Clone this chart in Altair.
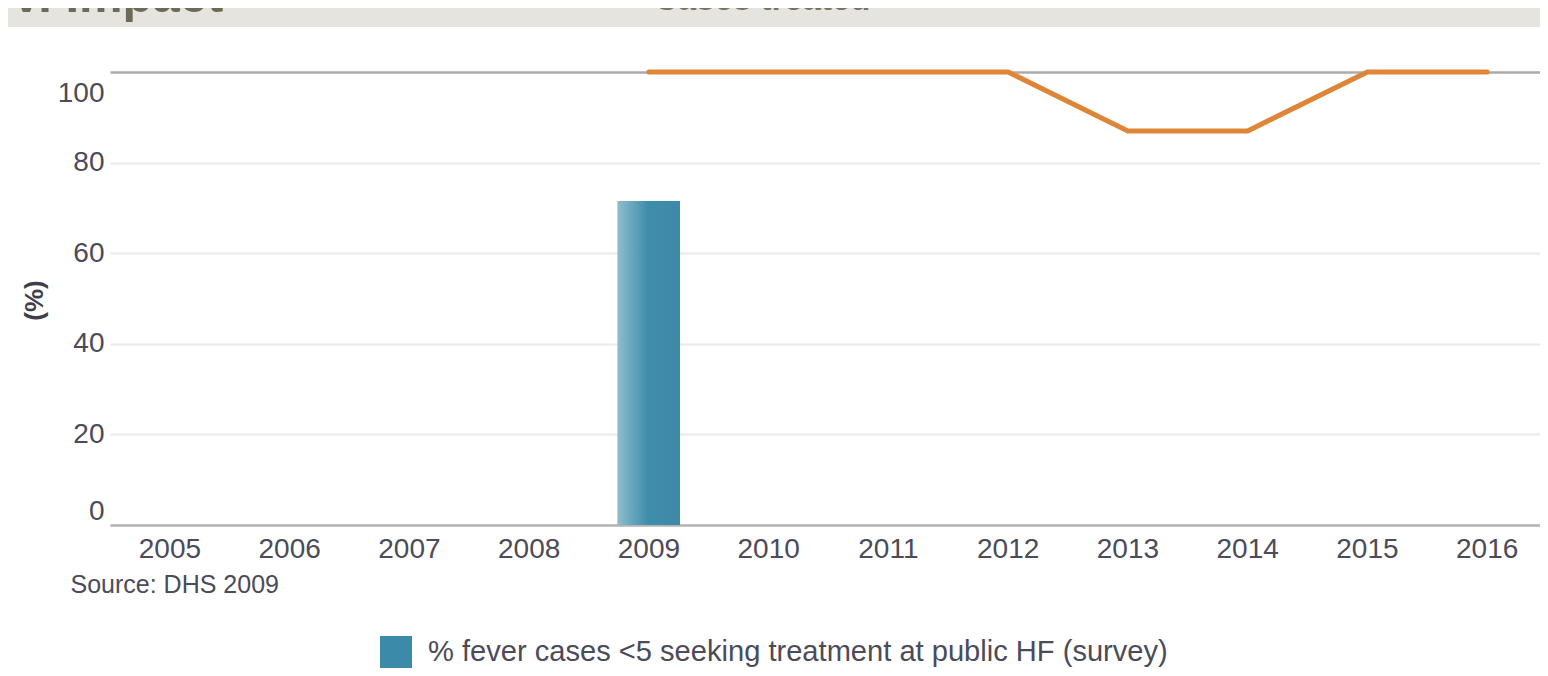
import altair as alt
import pandas as pd

# ---- data ----
years = ["2005", "2006", "2007", "2008", "2009", "2010", "2011", "2012",
         "2013", "2014", "2015", "2016"]
bar_years = ["2009"]
bar_values = [71.5]
bar_series = ["% fever cases <5 seeking treatment at public HF (survey)"]
line_years = ["2009", "2010", "2011", "2012", "2013", "2014", "2015", "2016"]
line_values = [100, 100, 100, 100, 87, 87, 100, 100]
y_ticks = [0, 20, 40, 60, 80, 100]
header_left = ["V. Impact"]
header_center = ["Cases treated"]
source_text = "Source: DHS 2009"
y_title = "(%)"

FONT = "Liberation Sans"
LABEL_COLOR = "#4b4b5a"

bar_df = pd.DataFrame({"year": bar_years, "value": bar_values, "series": bar_series})
line_df = pd.DataFrame({"year": line_years, "value": line_values})

W, H = 1437, 453
PAD_L, PAD_T = 102, 64

x_scale = alt.Scale(domain=years, paddingInner=0.48, paddingOuter=0.24)
y_scale = alt.Scale(domain=[0, 100], nice=False)

x_axis = alt.Axis(
    title=source_text, titleX=-40, titleY=59, titleAlign="left", titleAnchor="start",
    titleBaseline="middle", titleFontSize=25, titleFontWeight="normal",
    titleColor=LABEL_COLOR, titleFont=FONT,
    labelAngle=0, labelFontSize=28, labelColor=LABEL_COLOR, labelFont=FONT,
    labelPadding=10, ticks=False, domain=True, domainColor="#b4b4b4",
    domainWidth=2.5, grid=False,
)
y_axis = alt.Axis(
    title=y_title, titleX=-76, titleY=228, titleAngle=270, titleAlign="center",
    titleBaseline="middle", titleFontSize=26, titleFontWeight="bold",
    titleColor="#3f3f4c", titleFont=FONT,
    values=y_ticks, labelFontSize=28, labelColor=LABEL_COLOR, labelFont=FONT,
    labelPadding=6, ticks=False, domain=False, labelFlush=True,
    labelOffset={"condition": {"test": "datum.value === 100", "value": 7}, "value": 0},
    grid=True,
    gridColor={"condition": {"test": "datum.value === 100", "value": "#ababab"}, "value": "#e9e9e9"},
    gridWidth={"condition": {"test": "datum.value === 100", "value": 2.5}, "value": 2},
)

x_enc = alt.X("year:O", scale=x_scale, axis=x_axis)
y_enc = alt.Y("value:Q", scale=y_scale, axis=y_axis)

header_band = alt.Chart(pd.DataFrame({"t": header_left})).mark_rect(
    color="#e5e4df"
).encode(
    x=alt.value(-PAD_L), x2=alt.value(W + 1), y=alt.value(-72), y2=alt.value(-45)
)

header_text1 = alt.Chart(pd.DataFrame({"t": header_left})).mark_text(
    font=FONT, fontSize=49, fontWeight="bold", color="#6d6a58",
    align="left", baseline="alphabetic"
).encode(x=alt.value(-100), y=alt.value(-60), text="t:N")

header_text2 = alt.Chart(pd.DataFrame({"t": header_center})).mark_text(
    font=FONT, fontSize=33, fontWeight="bold", color="#77745f",
    align="left", baseline="alphabetic"
).encode(x=alt.value(544), y=alt.value(-62), text="t:N")

bar_solid = alt.Chart(bar_df).mark_bar().encode(
    x=x_enc, y=y_enc,
    color=alt.Color(
        "series:N", scale=alt.Scale(range=["#3c8aa9"]),
        legend=alt.Legend(
            orient="none", legendX=270, legendY=564, title=None,
            symbolType="square", symbolSize=1024, symbolStrokeWidth=0,
            labelFontSize=29.1, labelFont=FONT, labelColor=LABEL_COLOR,
            labelOffset=16, padding=0, labelLimit=0,
        ),
    ),
)

gradient = alt.LinearGradient(
    gradient="linear", x1=0, x2=1, y1=0, y2=0,
    stops=[
        alt.GradientStop(offset=0, color="#8dbdcc"),
        alt.GradientStop(offset=0.48, color="#3f8dab"),
        alt.GradientStop(offset=1, color="#3c89a8"),
    ],
)
bar_grad = alt.Chart(bar_df).mark_bar(color=gradient).encode(x=x_enc, y=y_enc)

line = alt.Chart(line_df).mark_line(
    color="#de8537", strokeWidth=5, strokeCap="round"
).encode(
    x=alt.X("year:O", scale=x_scale, axis=x_axis, bandPosition=0.5),
    y=y_enc,
)

chart = alt.layer(
    header_band, header_text1, header_text2, bar_solid, bar_grad, line
).properties(
    width=W, height=H,
    padding={"left": PAD_L, "top": PAD_T, "right": -7, "bottom": 150},
    autosize=alt.AutoSizeParams(type="none"),
    background="white",
).configure_view(stroke=None)

chart.save("out.html", embed_options={"renderer": "svg", "actions": False})
